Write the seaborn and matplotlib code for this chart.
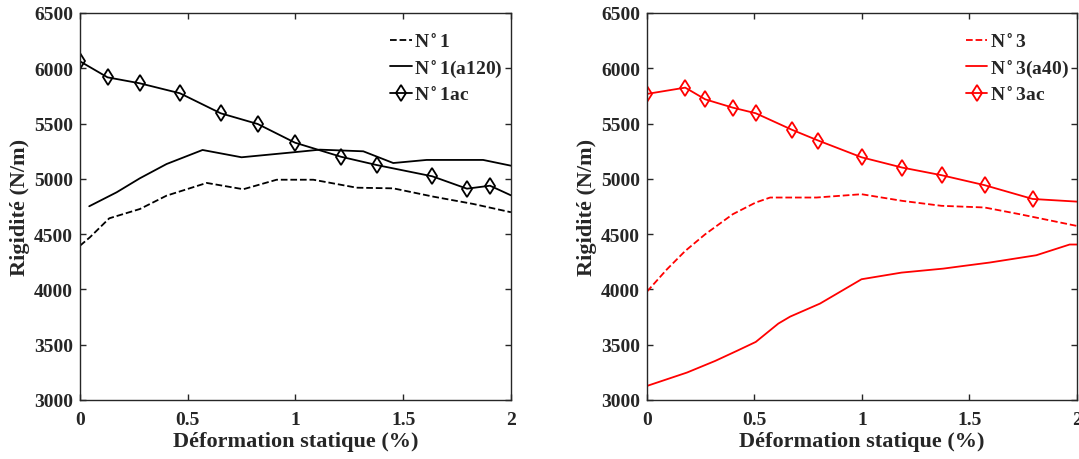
import numpy as np
import pandas as pd
import matplotlib
matplotlib.use('Agg')
import matplotlib.pyplot as plt
import seaborn as sns

# data
n1_x = [0.0, 0.046, 0.136, 0.278, 0.402, 0.588, 0.758, 0.913, 1.083, 1.284, 1.454, 1.640, 1.825, 2.0]
n1_y = [4395, 4471, 4643, 4727, 4848, 4963, 4906, 4992, 4992, 4920, 4914, 4839, 4773, 4698]

n1a_x = [0.043, 0.170, 0.278, 0.402, 0.569, 0.750, 0.990, 1.114, 1.315, 1.454, 1.609, 1.871, 2.0]
n1a_y = [4752, 4878, 5005, 5134, 5261, 5195, 5240, 5264, 5249, 5143, 5171, 5171, 5119]

n1ac_x = [0.0, 0.128, 0.278, 0.464, 0.653, 0.825, 0.998, 1.211, 1.377, 1.635, 1.796, 1.903, 2.0]
n1ac_y = [6063, 5918, 5864, 5774, 5593, 5496, 5327, 5200, 5125, 5023, 4911, 4938, 4851]

n3_x = [0.0, 0.093, 0.178, 0.271, 0.399, 0.506, 0.573, 0.789, 0.998, 1.187, 1.370, 1.570, 1.734, 2.0]
n3_y = [3980, 4182, 4348, 4499, 4680, 4786, 4831, 4831, 4861, 4801, 4756, 4741, 4680, 4574]

n3a_x = [0.0, 0.186, 0.317, 0.418, 0.506, 0.611, 0.666, 0.805, 0.998, 1.184, 1.378, 1.471, 1.594, 1.811, 1.966, 2.0]
n3a_y = [3127, 3248, 3353, 3444, 3525, 3691, 3754, 3872, 4092, 4152, 4188, 4212, 4243, 4309, 4406, 4406]

n3ac_x = [0.0, 0.178, 0.271, 0.399, 0.506, 0.673, 0.797, 0.998, 1.187, 1.370, 1.570, 1.794, 2.0]
n3ac_y = [5768, 5825, 5719, 5644, 5593, 5445, 5346, 5195, 5102, 5033, 4943, 4818, 4794]

x_ticks = [0, 0.5, 1, 1.5, 2]
x_ticklabels = ['0', '0.5', '1', '1.5', '2']
y_ticks = [3000, 3500, 4000, 4500, 5000, 5500, 6000, 6500]

sns.set_style('ticks')
plt.rcParams['font.family'] = ['Liberation Serif', 'DejaVu Serif']
plt.rcParams['font.weight'] = 'bold'
plt.rcParams['mathtext.fontset'] = 'stix'
plt.rcParams['xtick.direction'] = 'in'
plt.rcParams['ytick.direction'] = 'in'

fig = plt.figure(figsize=(10.79, 4.6), dpi=100)
ax1 = fig.add_axes([0.0741, 0.1283, 0.3994, 0.8413])
ax2 = fig.add_axes([0.5996, 0.1283, 0.3985, 0.8413])


def lab(num, suffix=''):
    return r'N$\,^{\circ}\,$' + num + suffix


def draw(ax, series, color, num, tag):
    (dx, dy), (ax_, ay), (cx, cy) = series
    sns.lineplot(x=dx, y=dy, ax=ax, color=color, linestyle='--', lw=1.3, sort=False,
                 estimator=None, label=lab(num))
    sns.lineplot(x=ax_, y=ay, ax=ax, color=color, linestyle='-', lw=1.3, sort=False,
                 estimator=None, label=lab(num, tag))
    sns.lineplot(x=cx, y=cy, ax=ax, color=color, linestyle='-', lw=1.3, sort=False,
                 estimator=None, marker='d', markersize=8, markerfacecolor='none',
                 markeredgecolor=color, markeredgewidth=1.3,
                 markevery=list(range(len(cx) - 1)), label=lab(num, 'ac'))
    ax.set_xlim(0, 2)
    ax.set_ylim(3000, 6500)
    ax.set_xticks(x_ticks)
    ax.set_xticklabels(x_ticklabels)
    ax.set_yticks(y_ticks)
    ax.tick_params(labelsize=14, top=True, right=True, length=4, width=1)
    ax.tick_params(axis='x', pad=8)
    ax.tick_params(axis='y', pad=5)
    for t in ax.get_xticklabels() + ax.get_yticklabels():
        t.set_fontweight('bold')
    for sp in ax.spines.values():
        sp.set_visible(True)
        sp.set_linewidth(1.0)
    ax.set_xlabel('Déformation statique (%)', fontsize=16, fontweight='bold', labelpad=2)
    ax.set_ylabel('Rigidité (N/m)', fontsize=16, fontweight='bold', labelpad=3)
    ax.legend(loc='upper right', frameon=False, handlelength=1.1,
              handletextpad=0.15, labelspacing=0.36, borderaxespad=0, borderpad=0,
              bbox_to_anchor=(0.982, 0.948),
              prop={'weight': 'bold', 'size': 14})


draw(ax1, [(n1_x, n1_y), (n1a_x, n1a_y), (n1ac_x, n1ac_y)], 'black', '1', '(a120)')
draw(ax2, [(n3_x, n3_y), (n3a_x, n3a_y), (n3ac_x, n3ac_y)], 'red', '3', '(a40)')

fig.savefig('out.png', dpi=100)
